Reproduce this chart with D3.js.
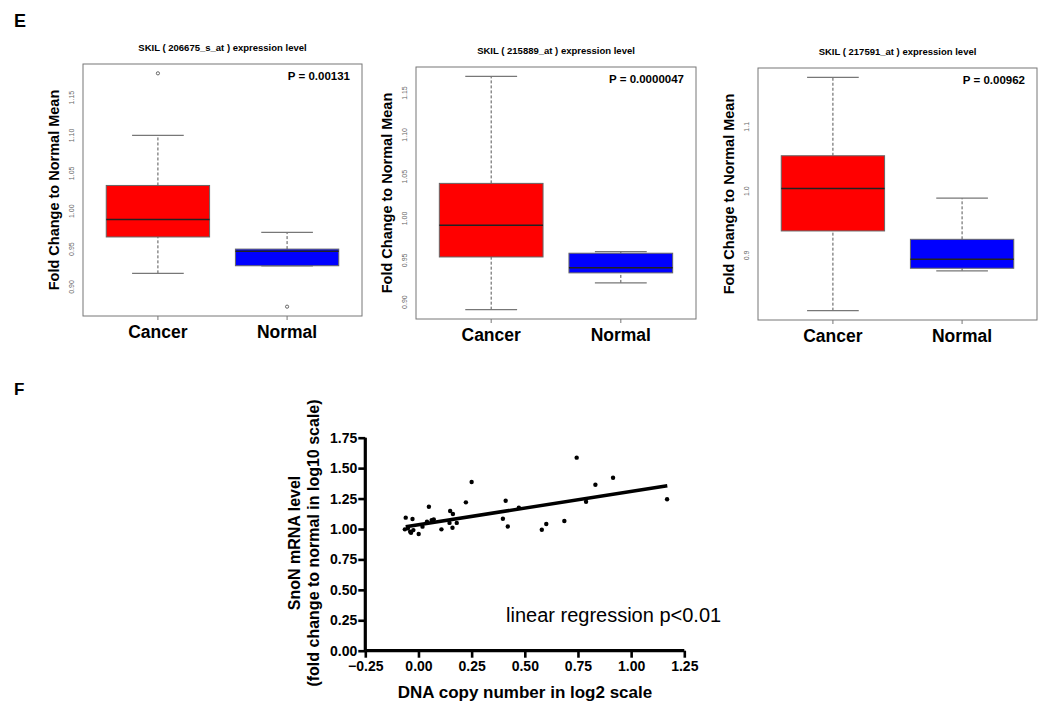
<!DOCTYPE html>
<html>
<head>
<meta charset="utf-8">
<script src="https://cdn.jsdelivr.net/npm/d3@7"></script>
<style>
  body { margin: 0; background: #fff; }
  svg { display: block; font-family: Arial, "Liberation Sans", sans-serif; }
</style>
</head>
<body>
<svg id="fig" width="1050" height="712"></svg>
<script>
// panel E data (box plots)
var groups = ["Cancer", "Normal"];
var probeTitles = ["SKIL ( 206675_s_at )  expression level", "SKIL ( 215889_at )  expression level", "SKIL ( 217591_at )  expression level"];
var pValues = ["P = 0.00131", "P = 0.0000047", "P = 0.00962"];
// [lower whisker, q1, median, q3, upper whisker]
var cancerStats = [[0.918, 0.966, 0.989, 1.034, 1.100], [0.891, 0.954, 0.992, 1.042, 1.170], [0.814, 0.938, 1.004, 1.055, 1.177]];
var normalStats = [[0.928, 0.928, 0.947, 0.950, 0.972], [0.923, 0.935, 0.941, 0.9585, 0.9605], [0.876, 0.880, 0.894, 0.925, 0.989]];
var cancerOutliers = [[1.182], [], []];
var normalOutliers = [[0.874], [], []];
var boxTicks = [[0.90, 0.95, 1.00, 1.05, 1.10, 1.15], [0.90, 0.95, 1.00, 1.05, 1.10, 1.15], [0.9, 1.0, 1.1]];
var boxTickFmt = [".2f", ".2f", ".1f"];

// panel F data (scatter)
var copyNumber = [-0.060, -0.028, -0.064, -0.050, -0.039, -0.035, -0.024, 0.001, 0.019, 0.049, 0.040, 0.062, 0.072, 0.108,
  0.149, 0.146, 0.162, 0.160, 0.180, 0.223, 0.250, 0.397, 0.410, 0.420, 0.472, 0.580, 0.601, 0.686, 0.744, 0.788, 0.832, 0.915, 1.169];
var mrnaLevel = [1.093, 1.082, 0.997, 1.005, 0.978, 0.969, 0.991, 0.959, 1.019, 1.183, 1.060, 1.073, 1.079, 0.997,
  1.148, 1.050, 1.123, 1.010, 1.050, 1.219, 1.386, 1.084, 1.232, 1.020, 1.175, 0.994, 1.041, 1.066, 1.586, 1.224, 1.364, 1.421, 1.244];
var fitLine = [[-0.06, 1.018], [1.17, 1.356]];
var xTicksF = [-0.25, 0, 0.25, 0.5, 0.75, 1.0, 1.25];
var yTicksF = [0, 0.25, 0.5, 0.75, 1.0, 1.25, 1.5, 1.75];

var svg = d3.select("#fig");

svg.append("text").attr("x", 14).attr("y", 27).attr("font-size", 18).attr("font-weight", "bold").text("E");
svg.append("text").attr("x", 14).attr("y", 395).attr("font-size", 17).attr("font-weight", "bold").text("F");

// frames of the three box panels
var frames = [
  {x0: 83, x1: 362, y0: 64, y1: 316},
  {x0: 416, x1: 696, y0: 67, y1: 319},
  {x0: 758, x1: 1037, y0: 68, y1: 320}
];

frames.forEach(function(f, i) {
  var g = svg.append("g");
  var all = cancerStats[i].concat(normalStats[i], cancerOutliers[i], normalOutliers[i]);
  var lo = d3.min(all), hi = d3.max(all), pad = (hi - lo) * 0.04;
  var y = d3.scaleLinear().domain([lo - pad, hi + pad]).range([f.y1, f.y0]);
  var x = d3.scaleLinear().domain([0.42, 2.58]).range([f.x0, f.x1]);
  var bw = x(1.4) - x(1);

  var sets = [
    {s: cancerStats[i], out: cancerOutliers[i], fill: "#ff0000", pos: 1},
    {s: normalStats[i], out: normalOutliers[i], fill: "#0000ff", pos: 2}
  ];

  sets.forEach(function(d) {
    var cx = x(d.pos);
    // dashed whiskers
    g.append("line").attr("x1", cx).attr("x2", cx).attr("y1", y(d.s[0])).attr("y2", y(d.s[1]))
      .attr("stroke", "#555").attr("stroke-width", 1).attr("stroke-dasharray", "3,2");
    g.append("line").attr("x1", cx).attr("x2", cx).attr("y1", y(d.s[3])).attr("y2", y(d.s[4]))
      .attr("stroke", "#555").attr("stroke-width", 1).attr("stroke-dasharray", "3,2");
    // caps
    [d.s[0], d.s[4]].forEach(function(v) {
      g.append("line").attr("x1", cx - bw / 2).attr("x2", cx + bw / 2).attr("y1", y(v)).attr("y2", y(v))
        .attr("stroke", "#777").attr("stroke-width", 1.3);
    });
    // box
    g.append("rect").attr("x", cx - bw).attr("width", 2 * bw)
      .attr("y", y(d.s[3])).attr("height", y(d.s[1]) - y(d.s[3]))
      .attr("fill", d.fill).attr("stroke", "#666").attr("stroke-width", 1);
    g.append("line").attr("x1", cx - bw).attr("x2", cx + bw).attr("y1", y(d.s[2])).attr("y2", y(d.s[2]))
      .attr("stroke", "#222").attr("stroke-width", 1.5);
    // outliers
    g.selectAll(null).data(d.out).enter().append("circle")
      .attr("cx", cx).attr("cy", function(v) { return y(v); }).attr("r", 1.6)
      .attr("fill", "none").attr("stroke", "#444").attr("stroke-width", 0.8);
  });

  // frame
  g.append("rect").attr("x", f.x0).attr("y", f.y0).attr("width", f.x1 - f.x0).attr("height", f.y1 - f.y0)
    .attr("fill", "none").attr("stroke", "#777").attr("stroke-width", 1);

  // y tick labels, rotated like R
  var fmt = d3.format(boxTickFmt[i]);
  g.selectAll(null).data(boxTicks[i]).enter().append("text")
    .attr("transform", function(v) { return "translate(" + (f.x0 - 9) + "," + y(v) + ") rotate(-90)"; })
    .attr("text-anchor", "middle").attr("font-size", 7).attr("fill", "#666")
    .text(function(v) { return fmt(v); });

  // x ticks and group labels
  groups.forEach(function(name, k) {
    var cx = x(k + 1);
    g.append("line").attr("x1", cx).attr("x2", cx).attr("y1", f.y1).attr("y2", f.y1 + 4)
      .attr("stroke", "#777").attr("stroke-width", 1);
    g.append("text").attr("x", cx).attr("y", f.y1 + 22).attr("text-anchor", "middle")
      .attr("font-size", 17.5).attr("font-weight", "bold").text(name);
  });

  g.append("text").attr("x", (f.x0 + f.x1) / 2).attr("y", f.y0 - 13).attr("text-anchor", "middle")
    .attr("font-size", 9.5).attr("font-weight", "bold").text(probeTitles[i]);
  g.append("text").attr("x", f.x1 - 12).attr("y", f.y0 + 16).attr("text-anchor", "end")
    .attr("font-size", 11.5).attr("font-weight", "bold").text(pValues[i]);
  g.append("text")
    .attr("transform", "translate(" + (f.x0 - 24) + "," + ((f.y0 + f.y1) / 2) + ") rotate(-90)")
    .attr("text-anchor", "middle").attr("font-size", 14.5).attr("font-weight", "bold")
    .text("Fold Change to Normal Mean");
});

// panel F scatter
var xS = d3.scaleLinear().domain([-0.25, 1.25]).range([365.3, 684.3]);
var yS = d3.scaleLinear().domain([0, 1.75]).range([650.7, 437.7]);

var gx = svg.append("g").attr("transform", "translate(0,650.7)")
  .call(d3.axisBottom(xS).tickValues(xTicksF).tickFormat(d3.format(".2f")).tickSize(7).tickPadding(3));
var gy = svg.append("g").attr("transform", "translate(365.3,0)")
  .call(d3.axisLeft(yS).tickValues(yTicksF).tickFormat(d3.format(".2f")).tickSize(7).tickPadding(1));

[gx, gy].forEach(function(a) {
  a.select(".domain").attr("stroke", "#000").attr("stroke-width", 3.2);
  a.selectAll(".tick line").attr("stroke", "#000").attr("stroke-width", 2.6);
  a.selectAll(".tick text").attr("fill", "#000").attr("font-size", 14).attr("font-weight", "bold")
    .attr("font-family", "Arial, 'Liberation Sans', sans-serif");
});
gx.select(".domain").attr("d", "M365.3,0H684.3");
gy.select(".domain").attr("d", "M0,437.7V650.7");

svg.append("g").selectAll("circle")
  .data(copyNumber)
  .enter()
  .append("circle")
  .attr("cx", function(d) { return xS(d); })
  .attr("cy", function(d, i) { return yS(mrnaLevel[i]); })
  .attr("r", 2.2)
  .attr("fill", "#000");

svg.append("path")
  .attr("d", d3.line().x(function(d) { return xS(d[0]); }).y(function(d) { return yS(d[1]); })(fitLine))
  .attr("stroke", "#000").attr("stroke-width", 3.5).attr("fill", "none");

svg.append("text").attr("x", 506).attr("y", 622).attr("font-size", 20).text("linear regression p<0.01");

svg.append("text").attr("x", 525).attr("y", 698).attr("text-anchor", "middle")
  .attr("font-size", 17).attr("font-weight", "bold").text("DNA copy number in log2 scale");

svg.append("text").attr("transform", "translate(300,543) rotate(-90)").attr("text-anchor", "middle")
  .attr("font-size", 16).attr("font-weight", "bold").text("SnoN mRNA level");
svg.append("text").attr("transform", "translate(319,543) rotate(-90)").attr("text-anchor", "middle")
  .attr("font-size", 16).attr("font-weight", "bold").text("(fold change to normal in log10 scale)");
</script>
</body>
</html>
